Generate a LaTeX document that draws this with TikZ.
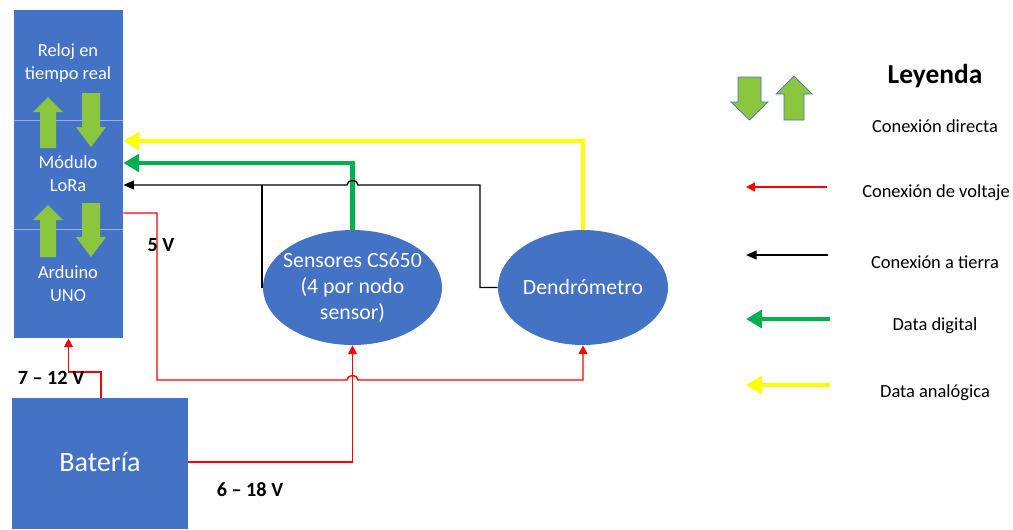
\documentclass[tikz,border=0pt]{standalone}
\usepackage{fontspec}
\setmainfont{Carlito}
\usetikzlibrary{arrows.meta,shapes.geometric}

\definecolor{azul}{RGB}{68,114,196}
\definecolor{verdeclaro}{RGB}{140,198,63}
\definecolor{verde}{RGB}{0,176,80}
\definecolor{amarillo}{RGB}{255,255,0}
\definecolor{rojo}{RGB}{255,0,0}

\tikzset{
  bloque/.style={rectangle, fill=azul, inner sep=0pt},
  elipse/.style={ellipse, fill=azul, inner sep=0pt, minimum height=2.3cm},
  texto/.style={text=white, align=center, font=\fontsize{10.5}{13}\selectfont},
  textoelipse/.style={text=white, align=center, font=\fontsize{12.4}{14.8}\selectfont},
  leyendatexto/.style={align=center, font=\fontsize{10.5}{12}\selectfont},
  etiquetav/.style={font=\bfseries\fontsize{11.5}{13}\selectfont},
  voltaje/.style={draw=rojo, line width=0.8pt, -{Triangle[length=5pt,width=5pt]}},
  tierra/.style={draw=black, line width=0.8pt, -{Triangle[length=6pt,width=5pt]}},
  digital/.style={draw=verde, line width=2.4pt, -{Triangle[length=9pt,width=10pt]}},
  analogica/.style={draw=amarillo, line width=2.4pt, -{Triangle[length=9pt,width=10pt]}},
  flechaok/.style={fill=verdeclaro}
}

\begin{document}
\begin{tikzpicture}[x=0.02cm, y=-0.02cm]
  \useasboundingbox (0,0) rectangle (1013,529);

  % Placa: reloj, LoRa y Arduino
  \node[bloque, minimum width=2.18cm, minimum height=6.56cm] (placa) at (68.5,174) {};
  \draw[azul!55!white, line width=0.3pt] (placa.west |- 0,120) -- (placa.east |- 0,120);
  \draw[azul!55!white, line width=0.3pt] (placa.west |- 0,229) -- (placa.east |- 0,229);
  \node[texto] (reloj) at (68,63) {Reloj en\\tiempo real};
  \node[texto] (lora) at (68,174) {Módulo\\LoRa};
  \node[texto] (arduino) at (68,284) {Arduino\\UNO};

  % flechas de conexion directa
  \foreach \cx/\ty/\hy/\by in {48/97/112/148, 48/205/220/257} {
    \fill[flechaok] (\cx,\ty) -- ({\cx+15},\hy) -- ({\cx+8},\hy) -- ({\cx+8},\by)
      -- ({\cx-8},\by) -- ({\cx-8},\hy) -- ({\cx-15},\hy) -- cycle;
  }
  \foreach \cx/\ty/\hy/\by in {91/93/127/147, 91/203/237/257} {
    \fill[flechaok] (\cx,\by) -- ({\cx+15},\hy) -- ({\cx+9},\hy) -- ({\cx+9},\ty)
      -- ({\cx-9},\ty) -- ({\cx-9},\hy) -- ({\cx-15},\hy) -- cycle;
  }

  % Bateria
  \node[bloque, minimum width=3.52cm, minimum height=2.62cm] (bateria) at (100,463.5) {};
  \node[text=white, font=\fontsize{16}{18}\selectfont] (bat) at (100,462) {Batería};

  % Sensores y dendrometro
  \node[elipse, minimum width=3.58cm] (sensores) at (352.5,287.5) {};
  \node[textoelipse] (sens) at (sensores) {Sensores CS650\\(4 por nodo\\sensor)};
  \node[elipse, minimum width=3.4cm] (dendro) at (583,287.5) {};
  \node[textoelipse] (dend) at (dendro) {Dendrómetro};

  % puntos de entrada en la placa
  \coordinate (entA) at (placa.east |- 0,141);
  \coordinate (entD) at (placa.east |- 0,163);
  \coordinate (entT) at (placa.east |- 0,185);
  \coordinate (salV) at (placa.east |- 0,213);
  \coordinate (salB) at (101,398);

  % datos
  \draw[analogica] (dendro.north) |- (entA);
  \draw[digital] (sensores.north) |- (entD);

  % tierra
  \draw[tierra] (dendro.west) -- (480,287.5) -- (480,185) -- (358,185)
    .. controls (358,179) and (347,179) .. (347,185) -- (entT);
  \draw[line width=0.8pt] (sensores.west) -- (262,287.5) -- (262,185);

  % voltajes
  \draw[voltaje] (salV) -- (157,213) -- (157,380) -- (347,380)
    .. controls (347,374) and (358,374) .. (358,380) -| (dendro.south);
  \draw[voltaje] (bateria.east |- 0,462) -| (sensores.south);
  \draw[voltaje] (salB) |- (placa.south |- 0,372) -- (placa.south);

  \node[etiquetav] (v5) at (161,245) {5 V};
  \node[etiquetav] (v712) at (51,378) {7 – 12 V};
  \node[etiquetav] (v618) at (250,490) {6 – 18 V};

  % Leyenda
  \node[font=\bfseries\fontsize{15.6}{18}\selectfont] (leyenda) at (935,76) {Leyenda};
  \fill[flechaok, draw=azul, line width=0.4pt] (749.5,120) -- (768,102) -- (761,102) -- (761,77)
    -- (738,77) -- (738,102) -- (731,102) -- cycle;
  \fill[flechaok, draw=azul, line width=0.4pt] (794,76) -- (812,94) -- (804,94) -- (804,120)
    -- (784,120) -- (784,94) -- (776,94) -- cycle;
  \node[leyendatexto] (ldir) at (935,126) {Conexión directa};

  \draw[voltaje] (827,187) -- (746,187);
  \node[leyendatexto] (lvol) at (936,193) {Conexión de voltaje};
  \draw[tierra] (828,255) -- (746,255);
  \node[leyendatexto] (ltie) at (935,262) {Conexión a tierra};
  \draw[digital] (830,319) -- (746,319);
  \node[leyendatexto] (ldig) at (935,326) {Data digital};
  \draw[analogica] (830,385) -- (746,385);
  \node[leyendatexto] (lana) at (935,393) {Data analógica};
\end{tikzpicture}
\end{document}
